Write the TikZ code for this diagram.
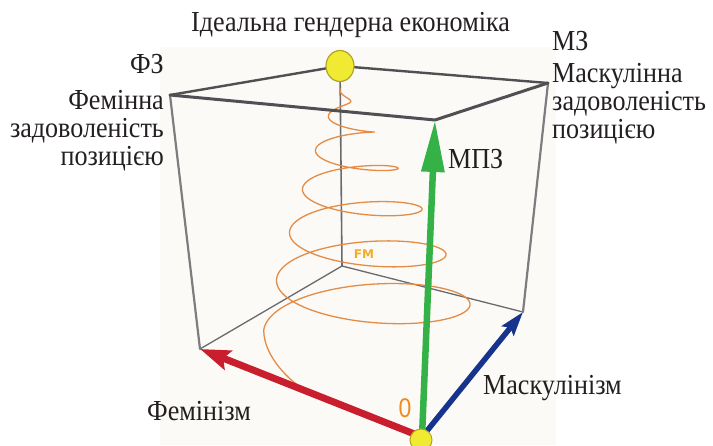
\documentclass[tikz,border=0pt]{standalone}
\usepackage{fontspec}
\setmainfont{Liberation Serif}[FakeStretch=0.9]
\newfontfamily\fmfont{DejaVu Sans}
\newfontfamily\zerofont{Liberation Sans}[FakeStretch=0.85]
\usetikzlibrary{arrows.meta}
\definecolor{txt}{RGB}{35,31,32}
\definecolor{bgtint}{RGB}{252,250,247}
\definecolor{edgedark}{RGB}{80,80,84}
\definecolor{edgemid}{RGB}{105,105,110}
\definecolor{edgeside}{RGB}{125,125,128}
\definecolor{spiralc}{RGB}{228,140,70}
\definecolor{fmc}{RGB}{242,172,40}
\definecolor{zeroc}{RGB}{240,140,30}
\definecolor{redar}{RGB}{200,30,45}
\definecolor{bluear}{RGB}{22,52,140}
\definecolor{greenar}{RGB}{52,178,72}
\definecolor{ballc}{RGB}{240,234,50}
\definecolor{ballrim}{RGB}{175,165,40}
\begin{document}
\begin{tikzpicture}[x=1pt,y=-1pt,
  lbl/.style={font=\fontsize{29pt}{28pt}\selectfont, text=txt, inner sep=0pt,
              text height=20pt, text depth=5pt},
  topfront/.style={draw=edgedark, line width=3pt, line join=round, line cap=round},
  topback/.style={draw=edgedark, line width=2.4pt, line join=round, line cap=round},
  sideedge/.style={draw=edgeside, line width=2.2pt, line cap=round},
  backedge/.style={draw=edgemid, line width=1.3pt},
  spiralline/.style={draw=spiralc, line width=1.3pt},
  axisarrow/.style={line cap=butt}
]
\useasboundingbox (0,0) rectangle (713,445);
\clip (0,0) rectangle (713,445);
\fill[bgtint] (160,47) rectangle (556,445);

% cube vertices
\coordinate (O)  at (422,437);
\coordinate (L)  at (200,349);
\coordinate (R)  at (523,312);
\coordinate (B)  at (342,266);
\coordinate (TO) at (435,120);
\coordinate (TL) at (170,95);
\coordinate (TR) at (548,83);
\coordinate (TB) at (340,66);

% back and side edges
\draw[backedge] (L) -- (B) -- (R);
\draw[backedge, line width=1.6pt] (TB) -- (B);
\draw[topback] (TL) -- (TB) -- (TR);
\draw[sideedge] (TL) -- (L);
\draw[sideedge] (TR) -- (R);

% spiral
\draw[spiralline] plot[domain=0.6:6.5, samples=500, variable=\t]
  ({337+5.5*\t + (18.5*\t-11)*cos(360*\t)},
   {72.25+25.4*\t+2.24*\t*\t - (0.14+0.03*\t)*(18.5*\t-11)*sin(360*\t)})
  coordinate (S6);
\draw[spiralline] (S6) .. controls +(0,28) and (295,392) .. (335,405);

% front top edges
\draw[topfront] (TL) -- (TO) -- (TR);

% FM label
\node[font=\fmfont\bfseries\fontsize{12pt}{12pt}\selectfont, text=fmc, inner sep=0pt] (fm) at (364,254) {FM};

% axes arrows
\draw[axisarrow, draw=redar, line width=7pt, -{Stealth[length=30pt, width=20pt, inset=5pt]}] (O) -- (L);
\draw[axisarrow, draw=bluear, line width=5.5pt, -{Stealth[length=24pt, width=15pt, inset=4pt]}] (O) -- (R);
\draw[axisarrow, draw=greenar, line width=6.5pt, -{Triangle[length=52pt, width=22pt]}] (O) -- (TO);

% zero label
\node[font=\zerofont\fontsize{27pt}{27pt}\selectfont, text=zeroc, inner sep=0pt] (zero) at (405,408) {0};

% balls
\draw[fill=ballc, draw=ballrim, line width=1.2pt] (TB) ellipse [x radius=14, y radius=15.5];
\node[circle, fill=ballc, draw=ballrim, line width=1pt, minimum size=22pt, inner sep=0pt] (ball0) at (421,440) {};

% labels
\node[lbl, anchor=base] (title) at (350.5,31) {Ідеальна гендерна економіка};
\node[lbl, anchor=base east] (fz) at (164,73) {ФЗ};
\node[lbl, anchor=base east] (fz1) at (164,109) {Фемінна};
\node[lbl, anchor=base east] (fz2) at (164,137) {задоволеність};
\node[lbl, anchor=base east] (fz3) at (164,165) {позицією};
\node[lbl, anchor=base west] (mz) at (552,50) {МЗ};
\node[lbl, anchor=base west] (mz1) at (552,82) {Маскулінна};
\node[lbl, anchor=base west] (mz2) at (552,110) {задоволеність};
\node[lbl, anchor=base west] (mz3) at (552,138) {позицією};
\node[lbl, anchor=base west] (mpz) at (448,168) {МПЗ};
\node[lbl, anchor=base west] (masc) at (483,394) {Маскулінізм};
\node[lbl, anchor=base west] (fem) at (147,420) {Фемінізм};
\end{tikzpicture}
\end{document}
